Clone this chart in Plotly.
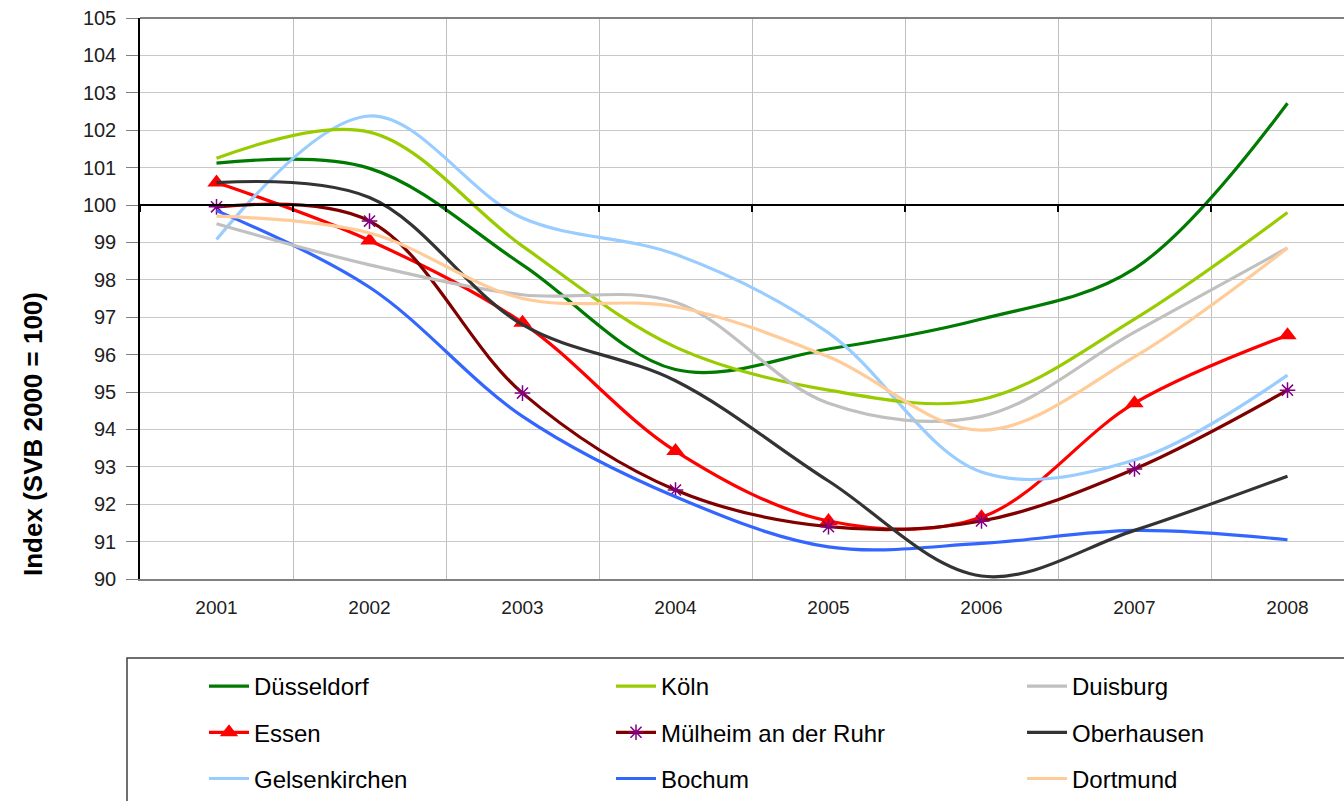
import plotly.graph_objects as go

years = ["2001", "2002", "2003", "2004", "2005", "2006", "2007", "2008"]

duesseldorf = [101.12, 100.98, 98.40, 95.60, 96.15, 96.95, 98.30, 102.72]
koeln = [101.25, 101.95, 98.90, 96.20, 95.05, 94.80, 96.95, 99.80]
duisburg = [99.50, 98.40, 97.60, 97.40, 94.70, 94.35, 96.60, 98.85]
essen = [100.60, 99.05, 96.85, 93.42, 91.55, 91.65, 94.70, 96.52]
muelheim = [99.95, 99.57, 94.97, 92.38, 91.40, 91.55, 92.94, 95.05]
oberhausen = [100.60, 100.20, 96.80, 95.30, 92.62, 90.08, 91.30, 92.75]
gelsenkirchen = [99.08, 102.38, 99.65, 98.68, 96.58, 92.86, 93.18, 95.45]
bochum = [99.85, 97.80, 94.35, 92.20, 90.86, 90.95, 91.30, 91.05]
dortmund = [99.70, 99.25, 97.50, 97.28, 95.94, 93.98, 95.94, 98.85]

series = [
    ("Düsseldorf", duesseldorf, "#007a00", None, "legend"),
    ("Essen", essen, "#ff0000", "triangle-up", "legend"),
    ("Gelsenkirchen", gelsenkirchen, "#99ccff", None, "legend"),
    ("Köln", koeln, "#99cc00", None, "legend2"),
    ("Mülheim an der Ruhr", muelheim, "#800000", "asterisk-open", "legend2"),
    ("Bochum", bochum, "#3366ff", None, "legend2"),
    ("Duisburg", duisburg, "#c0c0c0", None, "legend3"),
    ("Oberhausen", oberhausen, "#333333", None, "legend3"),
    ("Dortmund", dortmund, "#ffcc99", None, "legend3"),
]

xpos = list(range(len(years)))

fig = go.Figure()
for name, vals, color, sym, lg in series:
    mode = "lines+markers" if sym else "lines"
    marker = None
    if sym == "triangle-up":
        marker = dict(symbol=sym, size=16, color=color)
    elif sym == "asterisk-open":
        marker = dict(symbol=sym, size=13, color="#800080",
                      line=dict(color="#800080", width=1.5))
    fig.add_trace(go.Scatter(
        x=xpos, y=vals, name=name, mode=mode,
        line=dict(color=color, width=3.2, shape="spline", smoothing=1.0),
        marker=marker, legend=lg, legendgroup=name,
    ))

W, H = 1344, 801
L, T, B = 140, 18, 222
pw = W - L
ph = H - T - B
unit = 153.0
xmax = -0.5 + pw / unit

font = "Liberation Sans, Arial, sans-serif"

fig.update_layout(
    width=W, height=H,
    margin=dict(l=L, r=0, t=T, b=B, autoexpand=False),
    paper_bgcolor="white", plot_bgcolor="white",
    font=dict(family=font, color="black"),
    showlegend=True,
    xaxis=dict(
        range=[-0.5, xmax], tickmode="array", tickvals=xpos, ticktext=years,
        showgrid=False, zeroline=False, ticks="", ticklabelstandoff=10,
        tickfont=dict(size=19, family=font, color="#202020"),
        showline=True, linecolor="#808080", linewidth=2, mirror=False,
        minor=dict(tick0=0.5, dtick=1, showgrid=True, gridcolor="#bfbfbf",
                   gridwidth=1, ticks=""),
    ),
    xaxis2=dict(
        overlaying="x", matches="x", anchor="free", position=10/15,
        range=[-0.5, xmax], showgrid=False, zeroline=False,
        showticklabels=False, showline=True, linecolor="black", linewidth=2,
        tickmode="linear", tick0=-0.5, dtick=1, ticks="outside", ticklen=6,
        tickcolor="black", tickwidth=2,
    ),
    yaxis=dict(
        range=[90, 105], dtick=1, tick0=90, showgrid=True, gridcolor="#c8c8c8",
        gridwidth=1, zeroline=False, ticks="outside", ticklen=12,
        tickcolor="#808080", showline=True, linecolor="black", linewidth=1.5,
        ticklabelstandoff=6,
        tickfont=dict(size=20, family=font, color="#202020"),
    ),
)

# y-axis title, placed where the reference puts it (lower than plot centre)
fig.add_annotation(
    text="<b>Index (SVB 2000 = 100)</b>", textangle=-90, showarrow=False,
    xref="paper", yref="paper", x=(33 - L) / pw, y=(579 - 434) / ph,
    xanchor="center", yanchor="middle",
    font=dict(size=26, family=font, color="black"),
)

legend_common = dict(
    orientation="v", bgcolor="rgba(0,0,0,0)", borderwidth=0,
    font=dict(size=24, family=font, color="black"),
    xanchor="left", yanchor="top", tracegroupgap=12, itemwidth=40,
)
ly = (579 - 664) / ph
fig.update_layout(
    legend=dict(x=(204 - L) / pw, y=ly, **legend_common),
    legend2=dict(x=(611 - L) / pw, y=ly, **legend_common),
    legend3=dict(x=(1022 - L) / pw, y=ly, **legend_common),
)

# top border line at 105
fig.add_shape(type="line", xref="paper", yref="paper", x0=0, x1=1, y0=1, y1=1,
              line=dict(color="#808080", width=2), layer="above")
# legend box
fig.add_shape(type="rect", xref="paper", yref="paper",
              x0=(127 - L) / pw, x1=1.05, y0=(579 - 658) / ph, y1=(579 - 830) / ph,
              line=dict(color="#404040", width=1.5), fillcolor="rgba(0,0,0,0)")

# empty trace bound to xaxis2 so the reference line axis at 100 is rendered
fig.add_trace(go.Scatter(x=[], y=[], xaxis="x2", showlegend=False, hoverinfo="skip"))

fig.write_html("out.html", config={"displayModeBar": False},
               post_script="document.body.style.margin='0px';document.body.style.overflow='hidden';")
